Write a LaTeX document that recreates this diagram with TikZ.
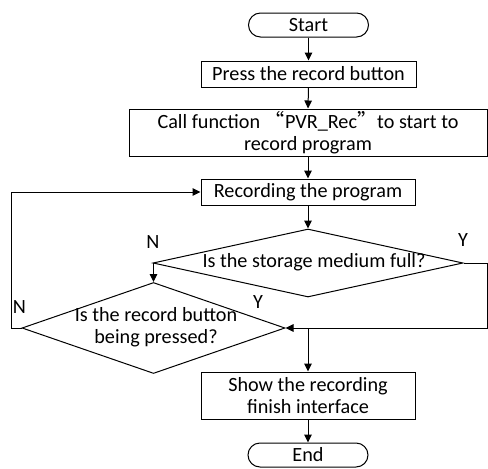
\documentclass[tikz,border=0pt]{standalone}
\usepackage{fontspec}
\setmainfont{Carlito}
\newfontfamily\cjkq{Noto Sans CJK SC}
\usetikzlibrary{shapes.geometric,arrows.meta}
\begin{document}
\begin{tikzpicture}[x=1pt,y=-1pt,
  every node/.style={font=\fontsize{20.2}{22.5}\selectfont},
  box/.style={draw,line width=1pt,inner sep=0pt,align=center},
  term/.style={draw,line width=1pt,rounded corners=12pt,inner sep=0pt,minimum width=120pt,minimum height=24pt},
  dia/.style={draw,diamond,line width=1pt,inner sep=0pt},
  conn/.style={line width=1pt,-{Triangle[length=8pt,width=7.5pt]}},
  plain/.style={line width=1pt},
  lbl/.style={inner sep=0pt}]
\useasboundingbox (0,0) rectangle (488,469);
% nodes
\node[term] (start) at (308.5,25) {Start};
\node[box,minimum width=215pt,minimum height=26pt] (press) at (308.5,74) {Press the record button};
\node[box,minimum width=358pt,minimum height=47pt] (call) at (308,132.5) {Call function {\cjkq “}PVR\_Rec{\cjkq ”}to start to\\record program};
\node[box,minimum width=214pt,minimum height=26pt] (rec) at (308,192) {Recording the program};
\node[dia,minimum width=310pt,minimum height=68pt] (d1) at (308,263) {};
\node[lbl] (d1t) at (314,262) {Is the storage medium full?};
\node[dia,minimum width=263pt,minimum height=91pt] (d2) at (153.5,328) {};
\node[lbl,align=center] (d2t) at (156,327) {Is the record button\\being pressed?};
\node[box,minimum width=214pt,minimum height=47pt] (show) at (308,395.5) {Show the recording\\finish interface};
\node[term] (end) at (308,455) {End};
% labels
\node[lbl] (n1) at (153,242) {N};
\node[lbl] (y1) at (463,240) {Y};
\node[lbl] (y2) at (258,302) {Y};
\node[lbl] (n2) at (19.5,307) {N};
% helper coordinates
\coordinate (rtop) at (487,263);
\coordinate (lc) at (11,328);
% connectors
\draw[conn] (start.south) -- (press.north);
\draw[conn] (press.south) -- (call.north);
\draw[conn] (call.south) -- (rec.north);
\draw[conn] (rec.south) -- (d1.north);
\draw[conn] (d1.west) -| (d2.north);
\draw[plain] (d1.east) -- (rtop);
\draw[conn] (rtop) |- (d2.east);
\draw[conn] (d2.east -| show.north) -- (show.north);
\draw[conn] (d2.west) -- (lc) |- (rec.west);
\draw[conn] (show.south) -- (end.north);
\end{tikzpicture}
\end{document}
